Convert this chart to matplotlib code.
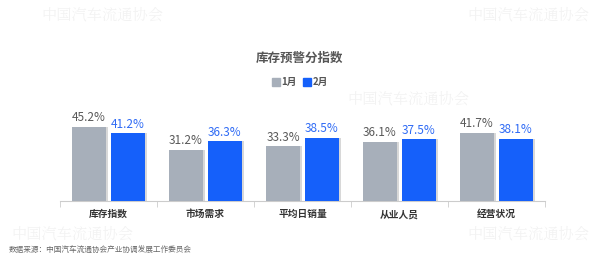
import matplotlib
matplotlib.use("Agg")
import matplotlib.pyplot as plt
import numpy as np
from matplotlib.patches import Patch

plt.rcParams['font.family'] = ['Noto Sans CJK SC', 'DejaVu Sans']

categories = ["库存指数", "市场需求", "平均日销量", "从业人员", "经营状况"]
jan = [45.2, 31.2, 33.3, 36.1, 41.7]
feb = [41.2, 36.3, 38.5, 37.5, 38.1]
series_names = ["1月", "2月"]
title = "库存预警分指数"
source = "数据来源：中国汽车流通协会产业协调发展工作委员会"

c_gray = "#A7AFBA"
c_blue = "#1560FA"

fig = plt.figure(figsize=(6, 2.7), dpi=100)
ax = fig.add_axes([0.1, 0.2556, 0.808, 0.3037])

x = np.arange(len(categories))
w = 0.35
off = 0.2
ax.bar(x - off, jan, w, color=c_gray, zorder=3)
ax.bar(x + off, feb, w, color=c_blue, zorder=3)
# subtle shadow
ax.bar(x - off + 0.02, jan, w, color="#d8d8d8", zorder=2)
ax.bar(x + off + 0.02, feb, w, color="#d8d8d8", zorder=2)

for xi, v in zip(x - off, jan):
    ax.text(xi, v + 1.5, f"{v}%", ha="center", va="bottom", fontsize=8.5, color="#595959")
for xi, v in zip(x + off, feb):
    ax.text(xi, v + 1.5, f"{v}%", ha="center", va="bottom", fontsize=8.5, color="#2F6BF5")

ax.set_xlim(-0.5, len(categories) - 0.5)
ax.set_ylim(0, 50)
ax.set_yticks([])
ax.set_xticks(x)
ax.set_xticklabels(categories, fontsize=7, fontweight="bold", color="#333333")
ax.tick_params(axis="x", length=0, pad=6)
ax.set_xticks(np.arange(len(categories) + 1) - 0.5, minor=True)
ax.tick_params(axis="x", which="minor", length=4, color="#cccccc")
for s in ["top", "right", "left"]:
    ax.spines[s].set_visible(False)
ax.spines["bottom"].set_color("#cccccc")

fig.text(0.5, 0.785, title, ha="center", va="center", fontsize=9, fontweight="bold", color="#555555")

handles = [Patch(color=c_gray), Patch(color=c_blue)]
leg = fig.legend(handles, series_names, loc="center", bbox_to_anchor=(0.5, 0.695), ncol=2,
                 frameon=False, handlelength=0.8, handleheight=0.8,
                 handletextpad=0.2, columnspacing=0.6, prop={'weight': 'bold', 'size': 7})
for t in leg.get_texts():
    t.set_color("#555555")

fig.text(0.015, 0.07, source, ha="left", va="center", fontsize=5.5, color="#666666")

# faint watermarks
wm = "中国汽车流通协会"
for (px, py) in [(0.17, 0.94), (0.88, 0.94), (0.68, 0.63), (0.12, 0.13), (0.88, 0.13)]:
    fig.text(px, py, wm, ha="center", va="center", fontsize=11, color="#000000", alpha=0.05,
             family=['Noto Serif CJK SC', 'Noto Sans CJK SC'])

fig.savefig("out.png", dpi=100)
